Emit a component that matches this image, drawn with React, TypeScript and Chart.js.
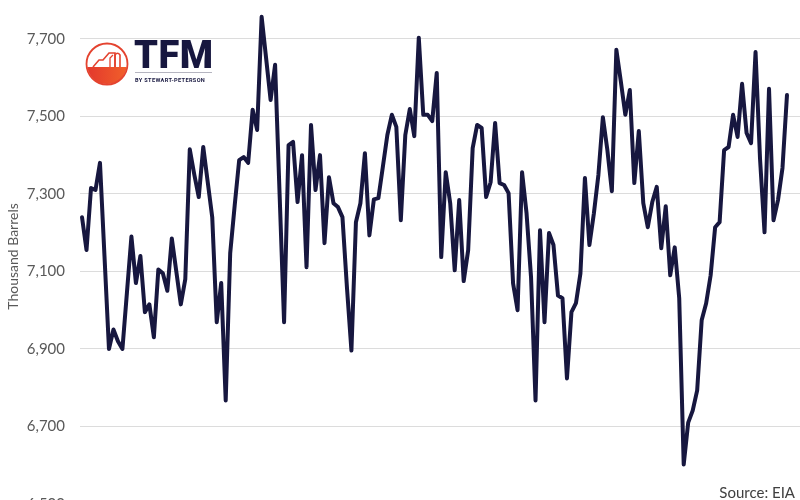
import React, { useEffect, useRef } from "react";
import { Chart, registerables } from "chart.js";

Chart.register(...registerables);

// Monthly stock levels (thousand barrels)
const STOCKS = [
  7240, 7155, 7315, 7310, 7380, 7140, 6900, 6950, 6920, 6900,
  7045, 7190, 7070, 7140, 6995, 7015, 6930, 7105, 7095, 7050,
  7185, 7100, 7015, 7080, 7415, 7350, 7292, 7421, 7330, 7240,
  6969, 7070, 6767, 7147, 7270, 7387, 7395, 7380, 7517, 7465,
  7757, 7650, 7542, 7633, 7300, 6969, 7426, 7434, 7279, 7400,
  7111, 7478, 7310, 7400, 7173, 7343, 7276, 7266, 7240, 7059,
  6896, 7227, 7276, 7405, 7193, 7286, 7289, 7370, 7452, 7504,
  7473, 7232, 7452, 7519, 7449, 7703, 7504, 7504, 7488, 7612,
  7137, 7356, 7276, 7103, 7284, 7075, 7155, 7418, 7478, 7470,
  7292, 7330, 7483, 7328, 7323, 7302, 7069, 7000, 7356, 7250,
  7085, 6767, 7206, 6969, 7199, 7168, 7038, 7031, 6824, 6995,
  7018, 7095, 7341, 7168, 7250, 7349, 7498, 7413, 7307, 7672,
  7590, 7504, 7568, 7328, 7462, 7276, 7214, 7279, 7318, 7160,
  7268, 7090, 7162, 7031, 6602, 6710, 6741, 6793, 6974, 7018,
  7090, 7214, 7227, 7413, 7421, 7504, 7447, 7584, 7457, 7431,
  7666, 7390, 7201, 7571, 7232, 7284, 7367, 7555,
];

const Y_TICKS = [6500, 6700, 6900, 7100, 7300, 7500, 7700];
const Y_TITLE = "Thousand Barrels";
const SOURCE_TEXT = "Source: EIA";
const LOGO_TEXT = "TFM";
const LOGO_SUBTEXT = "BY STEWART-PETERSON";

const NAVY = "#17173f";

function Logo() {
  return (
    <div style={{ position: "absolute", left: 84, top: 40, width: 140, height: 50 }}>
      <svg width="46" height="46" viewBox="0 0 46 46" style={{ position: "absolute", left: 0, top: 1 }}>
        <defs>
          <linearGradient id="lg" x1="0" y1="0" x2="1" y2="0">
            <stop offset="0" stopColor="#e2352d" />
            <stop offset="1" stopColor="#f2632a" />
          </linearGradient>
          <clipPath id="cc">
            <circle cx="23" cy="23" r="20" />
          </clipPath>
        </defs>
        <rect x="0" y="26" width="46" height="20" fill="url(#lg)" clipPath="url(#cc)" />
        <circle cx="23" cy="23" r="20.5" fill="none" stroke="#e4432f" strokeWidth="1.8" />
        <path d="M9 26 L15 19 L19 19 L25 12 L31 12 L31 26" fill="none" stroke="#e4432f" strokeWidth="1.6" />
        <path d="M31 26 V14 Q33.5 10.5 36 14 V26" fill="none" stroke="#e4432f" strokeWidth="1.6" />
        <path d="M26 26 V17 L29 14" fill="none" stroke="#e4432f" strokeWidth="1.3" />
      </svg>
      <div
        style={{
          position: "absolute",
          left: 50,
          top: -4,
          fontFamily: "Roboto, 'Open Sans', sans-serif",
          fontWeight: 900,
          fontSize: 38,
          lineHeight: "38px",
          color: NAVY,
          letterSpacing: 0.5,
        }}
      >
        {LOGO_TEXT}
      </div>
      <div style={{ position: "absolute", left: 51, top: 32, width: 77, height: 1, background: "#b5b5c0" }} />
      <div
        style={{
          position: "absolute",
          left: 51,
          top: 37,
          fontFamily: "Roboto, sans-serif",
          fontWeight: 700,
          fontSize: 5.6,
          lineHeight: "7px",
          color: NAVY,
          letterSpacing: 0.35,
          whiteSpace: "nowrap",
        }}
      >
        {LOGO_SUBTEXT}
      </div>
    </div>
  );
}

export default function App() {
  const canvasRef = useRef<HTMLCanvasElement>(null);

  useEffect(() => {
    const canvas = canvasRef.current;
    if (!canvas) return;
    const chart = new Chart(canvas, {
      type: "line",
      data: {
        datasets: [
          {
            data: STOCKS.map((v, i) => ({ x: i, y: v })),
            borderColor: NAVY,
            borderWidth: 4,
            pointRadius: 0,
            tension: 0,
            borderJoinStyle: "round",
            borderCapStyle: "round",
            clip: false,
          } as any,
        ],
      },
      options: {
        responsive: false,
        animation: false,
        devicePixelRatio: 1,
        layout: { padding: { top: 0, bottom: 16, left: 0, right: 0 } },
        plugins: { legend: { display: false }, tooltip: { enabled: false } },
        scales: {
          x: { type: "linear", display: false, min: -0.45, max: 159.9 },
          y: {
            min: 6500,
            max: 7777,
            afterBuildTicks: (s: any) => {
              s.ticks = Y_TICKS.map((value) => ({ value }));
            },
            afterFit: (s: any) => {
              s.width = 80;
            },
            grid: {
              color: "#dcdcdc",
              lineWidth: 1,
              drawTicks: true,
              tickLength: 15,
              tickColor: "rgba(0,0,0,0)",
            },
            border: { display: false },
            ticks: {
              padding: 0,
              color: "#595959",
              font: { family: "Lato", size: 15 },
              callback: (v: any) => Number(v).toLocaleString("en-US"),
            },
            title: {
              display: true,
              text: Y_TITLE,
              color: "#595959",
              font: { family: "Lato", size: 14 },
              padding: { top: 5, bottom: 0 },
            },
          },
        },
      },
    });
    return () => chart.destroy();
  }, []);

  return (
    <div
      style={{
        position: "fixed",
        left: 0,
        top: 0,
        width: 800,
        height: 500,
        overflow: "hidden",
        background: "#ffffff",
      }}
    >
      <canvas ref={canvasRef} width={800} height={520} style={{ display: "block" }} />
      <Logo />
      <div
        style={{
          position: "absolute",
          right: 5,
          top: 483,
          fontFamily: "Lato, sans-serif",
          fontSize: 15,
          lineHeight: "18px",
          color: "#404040",
        }}
      >
        {SOURCE_TEXT}
      </div>
    </div>
  );
}
